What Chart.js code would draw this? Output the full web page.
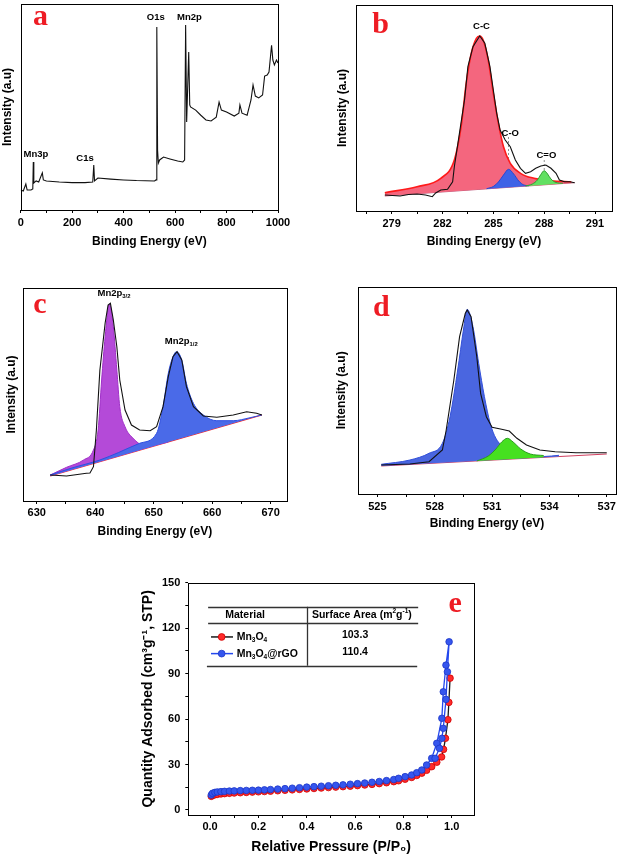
<!DOCTYPE html>
<html><head><meta charset="utf-8">
<script src="https://cdn.jsdelivr.net/npm/chart.js@4/dist/chart.umd.min.js"></script>
<style>
html,body{margin:0;padding:0;background:#fff;width:619px;height:858px;overflow:hidden;position:relative}
canvas{position:absolute}
</style></head><body>
<canvas id="ca" width="300" height="250" style="left:0;top:0"></canvas>
<canvas id="cb" width="319" height="250" style="left:300px;top:0"></canvas>
<canvas id="cc" width="300" height="300" style="left:0;top:250px"></canvas>
<canvas id="cd" width="309" height="300" style="left:310px;top:250px"></canvas>
<canvas id="ce" width="400" height="298" style="left:110px;top:560px"></canvas>
<script>
// ---------- Panel a: survey spectrum ----------
const aEnergy = [0,10,20,25,40,47,49,51,60,70,84,88,100,150,200,250,280,284,287,300,350,400,450,520,526,529,532,535,540,555,580,610,630,637,641,645,653,657,660,680,700,720,740,760,771,780,800,830,848,852,860,880,895,903,912,925,940,948,958,965,975,980,986,994,1000];
const aIntensity = [9.7,9.2,12.6,9.7,9.7,10.2,23.3,13.1,14.1,13.6,18,14.6,14.1,13.6,13.3,13.3,13.6,21.8,14.1,15.5,15,14.6,14.3,14.1,14.6,88.8,29,22.8,24.3,25.7,24.8,23.8,23.3,24.3,89.8,42.7,76.7,51,50,48.5,46,43.7,43.2,45.1,52.4,48.5,47.6,45.6,47,51,47,46,53.4,60.7,55.3,54.4,55.8,65,65.5,67,80,72.8,70.4,72.8,71.4];
const aLabels = [
  {text:'Mn3p', x:59, y:26.9}, {text:'C1s', x:250, y:25.2},
  {text:'O1s', x:525, y:93.3}, {text:'Mn2p', x:656, y:93.3}
];

// ---------- Panel b: C1s ----------
const bRawX = [278.6,279.5,280.0,280.5,281.0,281.4,281.6,281.9,282.3,282.6,282.7,283.0,283.3,283.5,283.8,284.2,284.5,284.8,285.0,285.2,285.4,285.7,286.0,286.3,286.6,286.9,287.2,287.5,287.8,288.1,288.4,288.7,288.9,289.2,289.5,289.8];
const bRawY = [16,15,16.5,17,16,14.3,18,21,21.7,29.3,44.3,77.7,111,144.3,164.3,175,167.7,144.3,121,97.7,81,71,64.3,51,42.7,37.7,39.3,42.7,45,46,42.7,37.7,31,29.3,29.3,28.3];
const bCCX = [278.6,280.5,281.9,282.7,283.1,283.4,283.7,284.0,284.2,284.4,284.7,285.0,285.3,285.6,286.0,286.6,287.4,288.4,289.6];
const bCCY = [18.3,24.3,32.7,51,84.3,127.7,157.7,172.7,175,171,151,117.7,87.7,64.3,47.7,37.7,32.7,30.3,29.3];
const bCOX = [284.6,285.0,285.3,285.6,285.9,286.2,286.5,286.8,287.1];
const bCOY = [22.3,24.5,29,36,41.7,37,30,26,25.2];
const bCdOX = [286.9,287.3,287.6,287.8,288.0,288.2,288.4,288.7,289.1];
const bCdOY = [25,27,31,36.5,40.3,37,32,28.5,27.7];
const bBaseX = [278.6,289.8];
const bBaseY = [15,28.3];
const bDropX = [284.2,285.9,288.0];
const bDropTop = [175,74,51];
const bDropBottom = [21.6,23.6,26.2];
const bLabels = [
  {text:'C-C', x:284.3, y:184.7}, {text:'C-O', x:286.0, y:78}, {text:'C=O', x:288.13, y:55.2}
];

// ---------- Panel c: Mn2p ----------
const cRawX = [632.3,635.1,638.5,639.1,639.7,640.2,640.8,641.7,642.2,642.6,643.1,643.7,644.2,645.1,646.2,647.6,649.4,650.5,651.6,652.5,653.3,654.0,654.8,655.6,656.8,658.5,660.8,663.6,665.9,667.6,668.5];
const cRawY = [26,25,27.7,28,34.3,71,131,178,196,197.7,181,154.3,121,91,76,71,70.3,74.3,94.3,124.3,144.3,149.3,141,114.3,94.3,85,83.7,86,89.3,87.7,86];
const c32X = [632.3,635.1,638.0,639.7,640.5,641.1,641.7,642.4,643.1,643.7,644.2,645.1,646.5,648.2,650.5,652.5];
const c32Y = [26,33.7,41,51,71,121,164.3,197,174.3,131,94.3,74.3,62.7,56,56.5,59];
const c12X = [632.3,636.0,640.8,644.0,647.6,650.5,651.6,652.5,653.3,653.9,654.8,655.6,656.8,658.5,660.8,663.6,666.5,668.5];
const c12Y = [26,33,41,48.5,57.7,67.7,94.3,127.7,144.3,149.3,141,117.7,97.7,86,80.3,80.3,83.3,86];
const cBaseX = [632.3,668.5];
const cBaseY = [25,86];

// ---------- Panel d: O1s ----------
const dRawX = [525.2,526.7,527.7,528.4,528.6,529.0,529.3,529.6,529.7,529.9,530.2,530.4,530.7,531.0,531.5,531.9,532.3,532.8,533.5,534.3,535.4,537.0];
const dRawY = [29,30,32.3,44,64,114,157.3,180.7,184,177.3,137.3,100.7,77.3,66.7,64.7,63,55.7,49,44,42.3,41.3,41.3];
const dP1X = [525.2,526.7,527.7,528.4,528.8,529.2,529.5,529.7,530.0,530.3,530.6,530.9,531.2,531.7,532.6,533.7,534.5];
const dP1Y = [29.7,34,40.7,50.7,77.3,124,164,184.7,167.3,130.7,97.3,70.7,55.7,45.7,38,37.5,38.7];
const dP2X = [530.2,530.8,531.2,531.5,531.8,532.1,532.5,533.0,533.7];
const dP2Y = [33,38,45,52,55.7,52,45,40,38.5];
const dBaseX = [525.2,537.0];
const dBaseY = [28,40];

// ---------- Panel e: N2 isotherms ----------
const eBlueP = [0.005,0.01,0.02,0.03,0.045,0.06,0.08,0.1,0.125,0.15,0.175,0.2,0.225,0.25,0.28,0.31,0.34,0.37,0.4,0.43,0.46,0.49,0.52,0.55,0.58,0.61,0.64,0.67,0.7,0.73,0.76,0.78,0.807,0.834,0.855,0.876,0.896,0.917,0.938,0.959,0.965,0.976,0.989,0.982,0.976,0.965,0.959,0.949,0.931];
const eBlueQ = [9.9,11,11.6,11.9,12.1,12.3,12.5,12.6,12.8,12.9,13.0,13.1,13.3,13.5,13.8,14.1,14.4,14.7,15.1,15.4,15.7,16.0,16.3,16.6,17.0,17.4,17.8,18.3,18.8,19.4,20.1,20.9,22.0,23.1,24.6,26.4,29.7,34.1,44,60.5,78,95.6,111,91.2,73,53.9,47.3,40.7,34.1];
const eRedP = [0.005,0.01,0.02,0.03,0.045,0.06,0.08,0.1,0.125,0.15,0.175,0.2,0.225,0.25,0.28,0.31,0.34,0.37,0.4,0.43,0.46,0.49,0.52,0.55,0.58,0.61,0.64,0.67,0.7,0.73,0.76,0.78,0.807,0.834,0.855,0.876,0.896,0.917,0.938,0.958,0.966,0.974,0.984,0.988,0.993];
const eRedQ = [9.0,9.6,10.0,10.3,10.6,10.8,11.0,11.2,11.4,11.6,11.8,12.0,12.2,12.4,12.7,13.0,13.3,13.6,13.9,14.2,14.5,14.8,15.1,15.4,15.7,16.1,16.5,16.9,17.4,18.0,18.7,19.3,20.3,21.5,22.8,24.3,26.2,28.6,31.5,35,40,47.3,59.6,71,87];
const eMaterials = [[{t:'Mn'},{t:'3',sub:true},{t:'O'},{t:'4',sub:true}], [{t:'Mn'},{t:'3',sub:true},{t:'O'},{t:'4',sub:true},{t:'@rGO'}]];
const eAreas = ['103.3','110.4'];

// ---------- panel letters ----------
const letters = {a:{x:77,y:89.8}, b:{x:278.35,y:177.7}, c:{x:630.56,y:188.3}, d:{x:525.2,y:178}, e:{x:1.014,y:130.8}};

// =================== drawing helpers ===================
const FONT = "'Liberation Sans', Arial, Helvetica, sans-serif";
const SERIF = "'Liberation Serif', 'Times New Roman', serif";
Chart.defaults.font.family = FONT;
Chart.defaults.color = '#000';

function zip(xs, ys){ return xs.map((x,i)=>({x:x, y:ys[i]})); }
function near(v, s){ const r = v/s; return Math.abs(r-Math.round(r)) < 1e-6; }

function drawRich(ctx, it, px, py){
  const size = it.size || 9.5, fam = it.family || FONT, wt = it.weight || 'bold';
  const parts = (typeof it.text === 'string') ? [{t:it.text}] : it.text;
  const fontFor = p => wt + ' ' + ((p.sub||p.sup) ? size*0.62 : size) + 'px ' + fam;
  let total = 0; const ws = [];
  parts.forEach(p => { ctx.font = fontFor(p); const w = ctx.measureText(p.t).width; ws.push(w); total += w; });
  let x = it.align === 'left' ? px : (it.align === 'right' ? px - total : px - total/2);
  ctx.fillStyle = it.color || '#000'; ctx.textAlign = 'left'; ctx.textBaseline = it.baseline || 'middle';
  parts.forEach((p,i) => { ctx.font = fontFor(p); const dy = p.sub ? size*0.32 : (p.sup ? -size*0.38 : 0); ctx.fillText(p.t, x, py+dy); x += ws[i]; });
}

const framePlugin = {id:'frame', afterDraw(chart){
  const a = chart.chartArea, ctx = chart.ctx;
  ctx.save(); ctx.strokeStyle = '#000'; ctx.lineWidth = 1;
  ctx.strokeRect(Math.round(a.left)+0.5, Math.round(a.top)+0.5, Math.round(a.right)-Math.round(a.left), Math.round(a.bottom)-Math.round(a.top));
  ctx.restore();
}};
function annot(items){
  return {id:'annot', afterDatasetsDraw(chart){
    const ctx = chart.ctx, xs = chart.scales.x, ys = chart.scales.y;
    ctx.save();
    items.forEach(it => drawRich(ctx, it, xs.getPixelForValue(it.x), ys.getPixelForValue(it.y)));
    ctx.restore();
  }};
}
function letterItem(ch){ return {text:ch, x:letters[ch].x, y:letters[ch].y, size:30, family:SERIF, color:'#ee1c24', baseline:'alphabetic'}; }

function xAxis(o){
  return {
    type:'linear', position:'bottom', min:o.min, max:o.max,
    afterFit(s){ s.height = o.height; },
    ticks:{stepSize:o.step, includeBounds:false, autoSkip:false, maxRotation:0, minRotation:0, padding:o.tickPad, color:'#000',
      font:{size:11, weight:'bold', family:FONT},
      callback:(v)=> near(v,o.labelStep) ? (Math.abs(v)<1e-9 ? 0 : v).toFixed(o.dec||0) : ''},
    grid:{display:true, drawOnChartArea:false, drawTicks:true, tickLength:3, tickColor:'#000', tickWidth:1, color:'#000'},
    border:{display:false},
    title:{display:true, text:o.title, color:'#000', font:{size:o.titleSize||12, weight:'bold', family:FONT}, padding:{top:0,bottom:0}}
  };
}
function yHidden(min, max, width, tpad){
  return {type:'linear', position:'left', min:min, max:max,
    afterFit(s){ s.width = width; },
    ticks:{display:false}, grid:{display:false}, border:{display:false},
    title:{display:true, text:'Intensity (a.u)', color:'#000', font:{size:12, weight:'bold', family:FONT}, padding:{top:tpad,bottom:0}}};
}
function ln(data, color, width, extra){
  return Object.assign({data:data, borderColor:color, borderWidth:width, pointRadius:0, fill:false, tension:0}, extra||{});
}
function peak(data, color, width, fillColor, target){
  return ln(data, color, width, {cubicInterpolationMode:'monotone', fill:{target:target, above:fillColor, below:fillColor}});
}
function make(id, datasets, scales, padding, extraPlugins, type){
  return new Chart(document.getElementById(id), {
    type: type || 'line', data:{datasets:datasets},
    options:{responsive:false, animation:false, devicePixelRatio:1, events:[],
      layout:{padding:padding}, scales:scales,
      plugins:{legend:{display:false}, tooltip:{enabled:false}}},
    plugins:[framePlugin].concat(extraPlugins)
  });
}

// =================== Panel a ===================
make('ca', [
  ln(zip(aEnergy, aIntensity), '#111', 1.1)
], {
  x: xAxis({min:0, max:1000, step:100, labelStep:200, title:'Binding Energy (eV)', height:38.7, tickPad:3}),
  y: yHidden(0, 100, 20.7, 0.8)
}, {left:0, top:4, right:22, bottom:1.3},
[annot(aLabels.map(l => Object.assign({size:9.5}, l)).concat([letterItem('a')]))]);

// =================== Panel b ===================
const bDrops = bDropX.map((x,i) => ln([{x:x, y:bDropTop[i]}, {x:x, y:bDropBottom[i]}], '#777', 0.8, {borderDash:[2,2]}));
make('cb', [
  ln(zip(bRawX, bRawY), '#111', 1.1),                         // 0 measured
  peak(zip(bCdOX, bCdOY), '#2f9e2f', 1, '#62e062', 4),        // 1 C=O
  peak(zip(bCOX, bCOY), '#2a45d0', 1, '#3f62e6', 4),          // 2 C-O
  peak(zip(bCCX, bCCY), '#ff1a1a', 1.6, '#f4667e', 4),        // 3 C-C
  ln(zip(bBaseX, bBaseY), '#c06080', 1)                       // 4 baseline
].concat(bDrops), {
  x: xAxis({min:276.9, max:292.0, step:1.5, labelStep:3, title:'Binding Energy (eV)', height:37.7, tickPad:3}),
  y: yHidden(0, 206, 56, 35.8)
}, {left:0, top:5, right:7, bottom:1.3},
[annot(bLabels.map(l => Object.assign({size:9.5}, l)).concat([letterItem('b')]))]);

// =================== Panel c ===================
make('cc', [
  ln(zip(cRawX, cRawY), '#111', 1.1),                         // 0 measured
  peak(zip(c12X, c12Y), '#2f4fe0', 1, '#4a6ae8', 3),          // 1 Mn2p1/2
  peak(zip(c32X, c32Y), '#a030c8', 1, '#b44ad8', 3),          // 2 Mn2p3/2
  ln(zip(cBaseX, cBaseY), '#ff2020', 1.3)                     // 3 baseline
], {
  x: xAxis({min:627.6, max:672.8, step:5, labelStep:10, title:'Binding Energy (eV)', height:37.9, tickPad:2}),
  y: yHidden(0, 213, 22.7, 4.5)
}, {left:0, top:38, right:13, bottom:11.1},
[annot([
  {text:[{t:'Mn2p'},{t:'3/2',sub:true}], x:640.4, y:207.7, align:'left', size:9.5},
  {text:[{t:'Mn2p'},{t:'1/2',sub:true}], x:651.9, y:160, align:'left', size:9.5},
  letterItem('c')
])]);

// =================== Panel d ===================
make('cd', [
  ln(zip(dRawX, dRawY), '#111', 1.1),                         // 0 measured
  peak(zip(dP2X, dP2Y), '#2a9a20', 1, '#46e020', 3),          // 1 green
  peak(zip(dP1X, dP1Y), '#3350d8', 1, '#4a66e0', 3),          // 2 blue
  ln(zip(dBaseX, dBaseY), '#d04060', 1.2)                     // 3 baseline
], {
  x: xAxis({min:524, max:537.47, step:1.5, labelStep:3, title:'Binding Energy (eV)', height:36.5, tickPad:3}),
  y: yHidden(0, 207.3, 48.3, 24.8)
}, {left:0, top:36.7, right:2.3, bottom:19.5},
[annot([letterItem('d')])]);

// =================== Panel e ===================
const BLUE = '#3556ee', BLUE_LINE = '#2448ee', RED = '#ff2a2a', RED_LINE = '#1a1a1a';
const eTable = {id:'etable', afterDatasetsDraw(chart){
  const ctx = chart.ctx, X = v => chart.scales.x.getPixelForValue(v), Y = v => chart.scales.y.getPixelForValue(v);
  ctx.save();
  ctx.strokeStyle = '#333'; ctx.lineWidth = 1.3;
  [[-0.008,0.861,134.1],[-0.008,0.861,123.5],[-0.013,0.857,95.2]].forEach(r => {
    ctx.beginPath(); ctx.moveTo(X(r[0]), Math.round(Y(r[2]))+0.5); ctx.lineTo(X(r[1]), Math.round(Y(r[2]))+0.5); ctx.stroke();
  });
  ctx.beginPath(); ctx.moveTo(Math.round(X(0.4))+0.5, Y(134.1)); ctx.lineTo(Math.round(X(0.4))+0.5, Y(95.2)); ctx.stroke();
  drawRich(ctx, {text:'Material', size:10.5}, X(0.145), Y(128.6));
  drawRich(ctx, {text:[{t:'Surface Area (m'},{t:'2',sup:true},{t:'g'},{t:'-1',sup:true},{t:')'}], size:10.5}, X(0.628), Y(128.6));
  const rows = [{q:114.2, line:RED_LINE, dot:RED, edge:'#d00000'}, {q:103.2, line:BLUE_LINE, dot:BLUE, edge:'#1d36c8'}];
  rows.forEach((r,i) => {
    ctx.strokeStyle = r.line; ctx.lineWidth = 1.5;
    ctx.beginPath(); ctx.moveTo(X(0.004), Y(r.q)); ctx.lineTo(X(0.095), Y(r.q)); ctx.stroke();
    ctx.fillStyle = r.dot; ctx.strokeStyle = r.edge; ctx.lineWidth = 0.8;
    ctx.beginPath(); ctx.arc(X(0.048), Y(r.q), 3.4, 0, Math.PI*2); ctx.fill(); ctx.stroke();
    drawRich(ctx, {text:eMaterials[i], size:10.5, align:'left'}, X(0.11), Y(r.q));
    drawRich(ctx, {text:eAreas[i], size:10.5}, X(0.6), Y(r.q+1.2));
  });
  ctx.restore();
}};
make('ce', [
  ln(zip(eBlueP, eBlueQ), BLUE_LINE, 1.3, {pointRadius:3.3, pointBackgroundColor:BLUE, pointBorderColor:'#1d36c8', pointBorderWidth:0.8, showLine:true}),
  ln(zip(eRedP, eRedQ), RED_LINE, 1.3, {pointRadius:3.3, pointBackgroundColor:RED, pointBorderColor:'#d00000', pointBorderWidth:0.8, showLine:true})
], {
  x: xAxis({min:-0.09, max:1.092, step:0.1, labelStep:0.2, dec:1, title:'Relative Pressure (P/P\u2080)', height:40.1, tickPad:2, titleSize:14}),
  y: {type:'linear', position:'left', min:-3.3, max:150,
      afterFit(s){ s.width = 78.3; },
      ticks:{stepSize:15, includeBounds:false, autoSkip:false, padding:5, color:'#000', font:{size:11, weight:'bold', family:FONT},
        callback:(v)=> near(v,30) ? String(Math.round(v)) : ''},
      grid:{display:true, drawOnChartArea:false, drawTicks:true, tickLength:3, tickColor:'#000', tickWidth:1},
      border:{display:false},
      title:{display:true, text:'Quantity Adsorbed (cm\u00B3g\u207B\u00B9, STP)', color:'#000', font:{size:14, weight:'bold', family:FONT}, padding:{top:29.6, bottom:0}}}
}, {left:0, top:22.7, right:36, bottom:2.9},
[eTable, annot([letterItem('e')])], 'scatter');
</script>
</body></html>
